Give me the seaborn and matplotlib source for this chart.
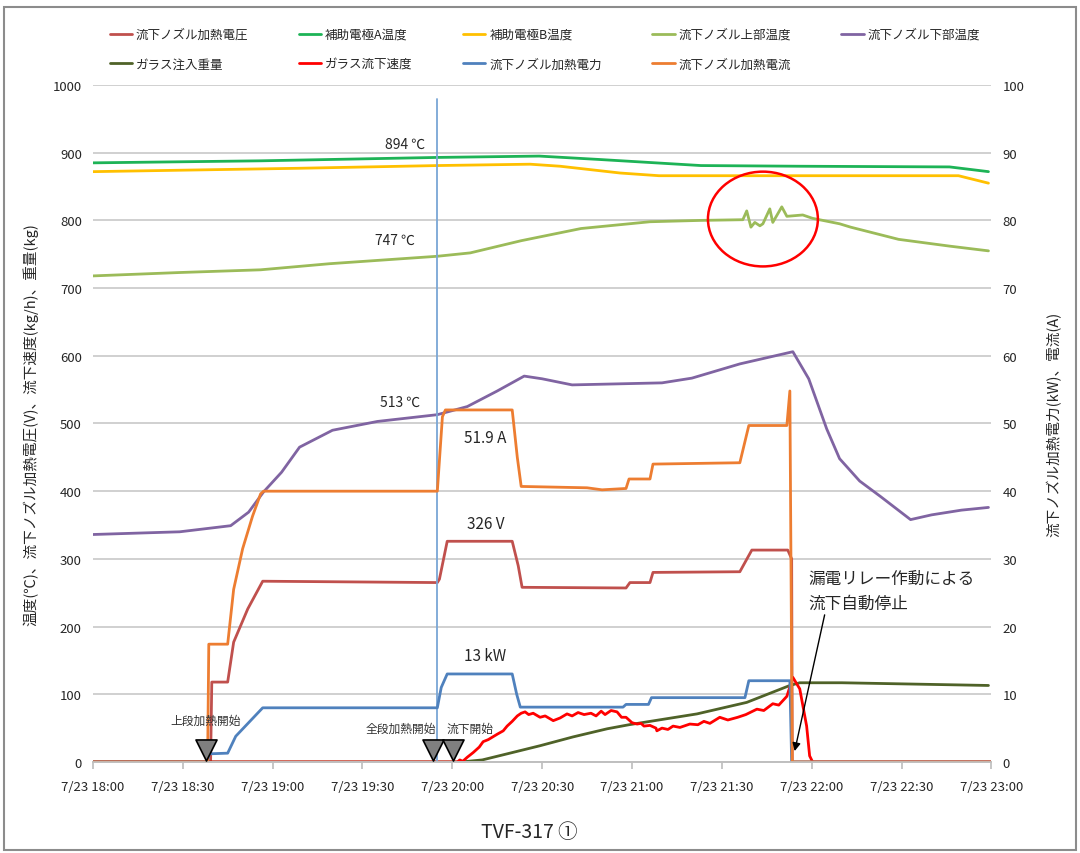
import pandas as pd
import matplotlib
matplotlib.use('Agg')
import matplotlib.pyplot as plt
import matplotlib.dates as mdates
from matplotlib.patches import Ellipse, Rectangle
import seaborn as sns

START = pd.Timestamp('2014-07-23 18:00')

# 時刻は 18:00 からの経過分(min)
volt_t = [0, 39.3, 39.7, 45, 47, 51.7, 56.7, 115, 115.7, 118.3, 140, 142, 143.3, 178, 179.3, 186, 187, 216, 220, 232, 233.3, 233.5, 300]
volt_v = [0, 0, 118, 118, 177, 226, 267, 265, 270, 326, 326, 290, 258, 257, 265, 265, 280, 281, 313, 313, 300, 0, 0]

tempA_t = [0, 56, 115, 149, 169, 203, 236, 286, 299]
tempA_v = [885, 888, 893, 895, 890, 881, 880, 879, 872]

tempB_t = [0, 69, 115, 146, 156, 176, 189, 289, 299]
tempB_v = [872, 877, 881, 883, 880, 870, 866, 866, 855]

upper_t = [0, 29, 56, 79, 115, 126, 143, 163, 186, 203, 217, 218.3, 219.7, 221, 222.7, 223.7, 226, 227, 230, 231.7,
           237, 240.3, 249.3, 253, 269, 286, 299]
upper_v = [718, 723, 727, 736, 747, 752, 770, 788, 798, 800, 801, 814, 790, 797, 792, 795, 817, 797, 820, 806,
           808, 803, 795, 790, 772, 762, 755]

lower_t = [0, 29, 46, 52, 57, 63, 69, 80, 95, 115, 125, 135, 144, 150, 160, 170, 190, 200, 216, 233.7, 239, 245,
           249.3, 256, 263, 273, 280, 290, 299]
lower_v = [336, 340, 349, 369, 399, 428, 465, 490, 503, 513, 525, 548, 570, 566, 557, 558, 560, 567, 588, 606, 566,
           492, 448, 415, 392, 358, 365, 372, 376]

weight_t = [0, 123, 130, 138.3, 149.3, 160.3, 171.7, 179, 201.7, 218.3, 232.7, 236, 250, 299]
weight_v = [0, 0, 3, 12, 24, 37, 49, 55, 71, 88, 113, 117, 117, 113]

speed_t = [0, 121.7, 122.5, 123.5, 124.5, 125, 127, 129, 130.3, 132, 135, 137, 138.3, 140, 141.7, 143, 144.3, 145.5,
           147, 149.3, 151, 153.7, 156, 158.3, 160, 162, 164, 166.3, 168, 169.7, 171, 173, 175, 176.5, 178, 180,
           181.7, 183, 184, 186, 188, 188.3, 190, 192, 193.7, 196, 199.3, 202, 204, 206, 209.3, 212, 215.3, 218,
           221.7, 224, 227, 229, 231.7, 233.7, 236, 238.3, 239.3, 240.3, 300]
speed_v = [0, 0, 3, 1, 5, 7, 14, 22, 30, 33, 41, 46, 53, 60, 68, 72, 74, 70,
           72, 66, 68, 61, 65, 71, 68, 73, 70, 72, 68, 75, 70, 76, 74, 66, 66, 58,
           56, 57, 53, 54, 50, 46, 50, 48, 53, 51, 56, 55, 60, 57, 66, 62, 66, 70,
           78, 76, 86, 84, 97, 125, 108, 53, 9, 0, 0]

power_t = [0, 38.3, 38.7, 45, 47.7, 56.7, 115, 116.3, 118.3, 140, 141.5, 142.7, 177, 178, 185.5, 186.5, 217.7, 219,
           232.7, 233.3, 300]
power_v = [0, 0, 1.2, 1.3, 3.8, 8.0, 8.0, 11, 13, 13, 10, 8.1, 8.1, 8.5, 8.5, 9.5, 9.5, 12.0, 12.0, 0, 0]

current_t = [0, 38.3, 38.7, 45, 47, 50, 53.3, 56, 57, 115, 116.7, 117.7, 140, 141.7, 143, 165, 170, 178, 179, 186,
             187, 216, 219, 231.7, 232.7, 233.5, 300]
current_v = [0, 0, 17.4, 17.4, 25.5, 31.5, 36.3, 39.6, 40, 40, 51, 52, 52, 45, 40.7, 40.5, 40.2, 40.4, 41.8, 41.8,
             44, 44.2, 49.7, 49.7, 54.8, 0, 0]

# イベント
event_t = [37.7, 113.7, 120.3]
vline_t = 115
vline_top = 980


def to_time(mins):
    return START + pd.to_timedelta(mins, unit='m')


left_series = [
    ('流下ノズル加熱電圧', volt_t, volt_v, '#c0504d'),
    ('補助電極A温度', tempA_t, tempA_v, '#1db356'),
    ('補助電極B温度', tempB_t, tempB_v, '#ffc000'),
    ('流下ノズル上部温度', upper_t, upper_v, '#9bbb59'),
    ('流下ノズル下部温度', lower_t, lower_v, '#8064a2'),
    ('ガラス注入重量', weight_t, weight_v, '#4f6228'),
    ('ガラス流下速度', speed_t, speed_v, '#ff0000'),
]
right_series = [
    ('流下ノズル加熱電力', power_t, power_v, '#4f81bd'),
    ('流下ノズル加熱電流', current_t, current_v, '#ed7d31'),
]

sns.set_theme(style='white')
plt.rcParams['font.family'] = ['Noto Sans CJK JP', 'DejaVu Sans']

fig = plt.figure(figsize=(10.8, 8.54), dpi=100)
ax = fig.add_axes([0.086, 0.1066, 0.832, 0.7927])
ax2 = ax.twinx()

handles = []
for name, t, v, c in left_series:
    df = pd.DataFrame({'time': to_time(t), 'value': v})
    sns.lineplot(data=df, x='time', y='value', color=c, lw=2, ax=ax, estimator=None, legend=False)
    handles.append(ax.lines[-1])

ax.plot([to_time(vline_t)] * 2, [0, vline_top], color='#7aa6d6', lw=1.3)

for name, t, v, c in right_series:
    df = pd.DataFrame({'time': to_time(t), 'value': v})
    sns.lineplot(data=df, x='time', y='value', color=c, lw=2, ax=ax2, estimator=None, legend=False)
    handles.append(ax2.lines[-1])

labels = [s[0] for s in left_series + right_series]

# 軸
ax.set_ylim(0, 1000)
ax2.set_ylim(0, 100)
ax.set_xlim(START, to_time(300))
ax.set_yticks(range(0, 1001, 100))
ax2.set_yticks(range(0, 101, 10))
ax.set_xticks(to_time(list(range(0, 301, 30))))
ax.xaxis.set_major_formatter(plt.FuncFormatter(
    lambda x, p: f"{mdates.num2date(x).month}/{mdates.num2date(x).day} {mdates.num2date(x):%H:%M}"))
ax.yaxis.grid(True, color='#c8c8c8', lw=1.2)
ax.xaxis.grid(False)
ax2.grid(False)
for a in (ax, ax2):
    for s in ('left', 'right', 'top'):
        a.spines[s].set_visible(False)
    a.spines['bottom'].set_color('#bfbfbf')
ax.tick_params(axis='y', length=0, labelsize=9.5, pad=8)
ax2.tick_params(axis='y', length=0, labelsize=9.5, pad=8)
ax.tick_params(axis='x', bottom=True, length=5, color='#bfbfbf', labelsize=9.5, pad=8)
ax.set_xlabel('')
ax.set_ylabel('温度(℃)、流下ノズル加熱電圧(V)、流下速度(kg/h)、重量(kg)', fontsize=10.5, labelpad=10)
ax2.set_ylabel('流下ノズル加熱電力(kW)、電流(A)', fontsize=10.5, labelpad=16)

# 注記
ax.text(to_time(104.3), 913, '894 ℃', ha='center', va='center', fontsize=10)
ax.text(to_time(101), 772, '747 ℃', ha='center', va='center', fontsize=10)
ax.text(to_time(102.7), 532, '513 ℃', ha='center', va='center', fontsize=10)
ax.text(to_time(131), 480, '51.9 A', ha='center', va='center', fontsize=11)
ax.text(to_time(131), 352, '326 V', ha='center', va='center', fontsize=11)
ax.text(to_time(131), 158, '13 kW', ha='center', va='center', fontsize=11)
ax2.text(to_time(37.7), 6.1, '上段加熱開始', ha='center', va='center', fontsize=8.5, color='#333333')
ax2.text(to_time(102.7), 4.9, '全段加熱開始', ha='center', va='center', fontsize=8.5, color='#333333')
ax2.text(to_time(126), 4.9, '流下開始', ha='center', va='center', fontsize=8.5, color='#333333')

ax2.scatter(to_time(event_t), [1.7] * len(event_t), marker='v', s=230, color='#7f7f7f',
            edgecolor='black', linewidth=1.2, zorder=5)

ax2.add_patch(Ellipse((mdates.date2num(to_time(223.7)), 80.2), 36.7 / 1440, 14,
                      fill=False, edgecolor='#ff0000', lw=1.8, zorder=6))

ax2.annotate('漏電リレー作動による\n流下自動停止', xy=(to_time(234.3), 1.6), xytext=(to_time(239), 25.3),
             fontsize=12, ha='left', va='center', linespacing=1.6,
             arrowprops=dict(arrowstyle='-|>', color='black', lw=1, shrinkA=0, shrinkB=0,
                             relpos=(0.1, 0.0)))

# 凡例は行ごとに並べる(列優先で埋まるので並べ替え)
order = [0, 5, 1, 6, 2, 7, 3, 8, 4]
fig.legend([handles[i] for i in order], [labels[i] for i in order], loc='upper left',
           bbox_to_anchor=(0.097, 0.88, 0.815, 0.092), mode='expand', ncol=5, frameon=False,
           fontsize=9, handlelength=1.8, handletextpad=0.3, labelspacing=1.35, borderaxespad=0)

fig.text(0.49, 0.025, 'TVF-317 ①', ha='center', va='center', fontsize=14)

fig.patches.append(Rectangle((0.004, 0.004), 0.992, 0.987, transform=fig.transFigure, fill=False,
                             edgecolor='#8c8c8c', lw=1.5))

fig.savefig('out.png', dpi=100)
